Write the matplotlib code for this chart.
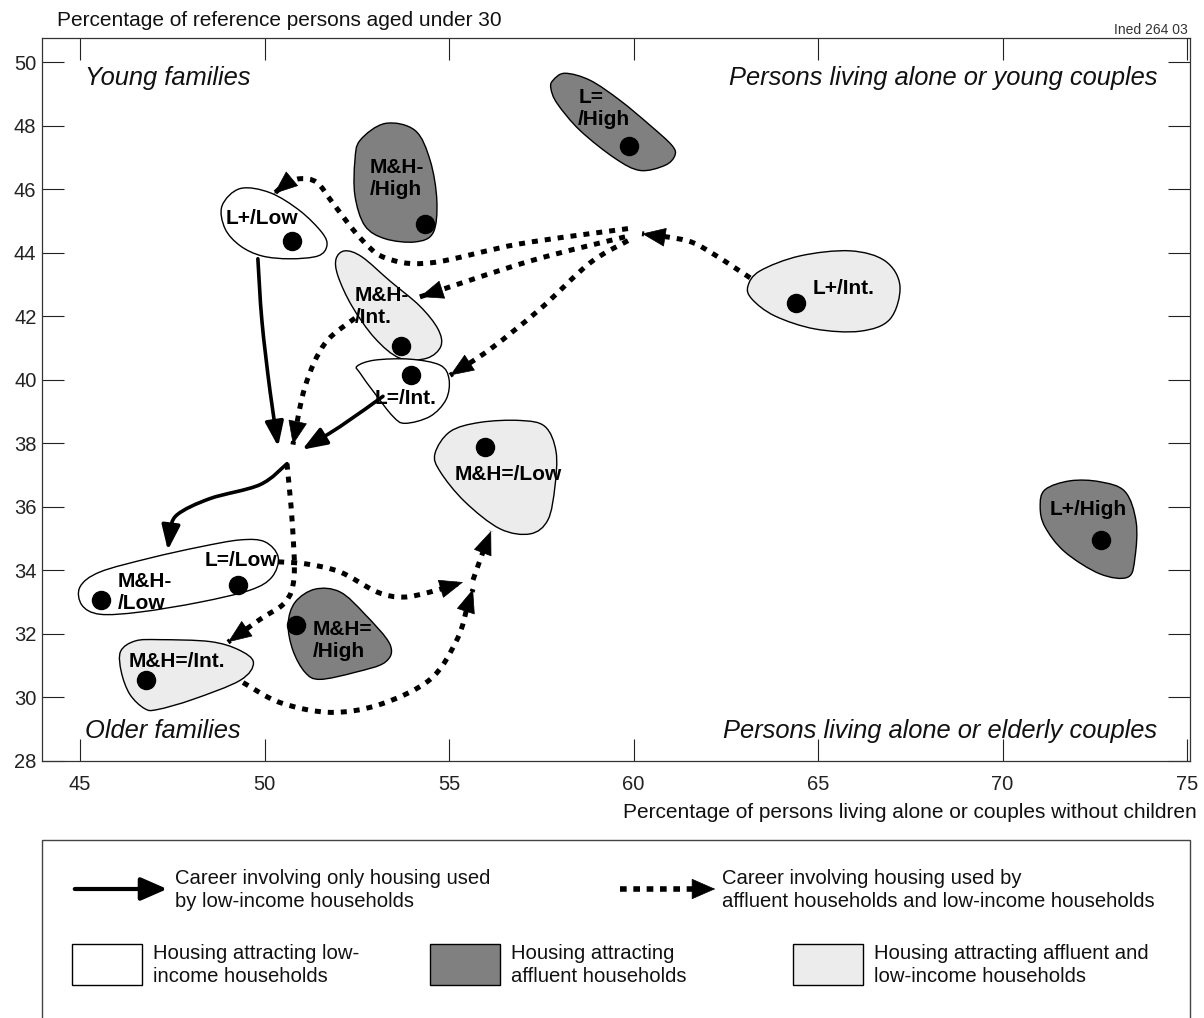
import matplotlib
matplotlib.use('Agg')
import matplotlib.pyplot as plt
from matplotlib.path import Path
from matplotlib.patches import PathPatch, FancyArrowPatch, Rectangle
import numpy as np

plt.rcParams['font.family'] = ['Liberation Sans', 'DejaVu Sans']

# ---------------- data ----------------
housing_types = ['L+/Low', 'M&H-/High', 'L=/High', 'M&H-/Int.', 'L=/Int.', 'L+/Int.',
                 'M&H=/Low', 'L+/High', 'L=/Low', 'M&H-/Low', 'M&H=/High', 'M&H=/Int.']
pct_alone_no_children = [50.75, 54.35, 59.88, 53.70, 53.97, 64.40,
                         55.98, 72.67, 49.28, 45.57, 50.85, 46.79]
pct_under_30 = [44.38, 44.90, 47.35, 41.06, 40.14, 42.42,
                37.90, 34.96, 33.54, 33.06, 32.27, 30.54]
label_text = ['L+/Low', 'M&H-\n/High', 'L=\n/High', 'M&H-\n/Int.', 'L=/Int.', 'L+/Int.',
              'M&H=/Low', 'L+/High', 'L=/Low', 'M&H-\n/Low', 'M&H=\n/High', 'M&H=/Int.']
x_ticks = [45, 50, 55, 60, 65, 70, 75]
y_ticks = [28, 30, 32, 34, 36, 38, 40, 42, 44, 46, 48, 50]

# ---------------- layout / styles (annotation shapes) ----------------
FILL = {'low': 'white', 'affluent': '#808080', 'both': '#ececec'}

blobs = [
    ('low', [(48.85, 45.48), (49.34, 46.02), (50.15, 45.89), (50.96, 45.32), (51.56, 44.63), (51.69, 44.22),
             (51.45, 43.90), (50.69, 43.81), (49.93, 43.90), (49.34, 44.22), (48.93, 44.76)]),
    ('affluent', [(52.59, 47.54), (53.27, 48.07), (54.08, 47.85), (54.49, 46.90), (54.67, 45.64), (54.57, 44.63),
                  (54.08, 44.34), (53.27, 44.44), (52.72, 44.85), (52.45, 45.80), (52.45, 46.90)]),
    ('affluent', [(57.82, 49.43), (58.14, 49.65), (58.82, 49.43), (59.63, 48.80), (60.45, 48.01), (61.04, 47.38),
                  (61.12, 47.06), (60.85, 46.75), (60.18, 46.59), (59.50, 46.97), (58.55, 47.85), (57.93, 48.70),
                  (57.76, 49.18)]),
    ('both', [(52.18, 44.06), (52.64, 43.87), (53.40, 43.11), (54.21, 42.32), (54.70, 41.60), (54.78, 41.06),
              (54.40, 40.68), (53.67, 40.68), (52.99, 41.31), (52.37, 42.32), (51.99, 43.27), (51.94, 43.81)]),
    ('low', [(52.51, 40.43), (52.99, 40.62), (53.94, 40.65), (54.76, 40.46), (55.00, 40.02), (54.92, 39.38),
             (54.49, 38.85), (53.81, 38.63), (53.48, 38.85), (52.99, 39.57), (52.59, 40.21)]),
    ('both', [(63.10, 42.95), (63.43, 43.43), (64.51, 43.90), (65.87, 44.06), (66.82, 43.74), (67.22, 42.95),
              (66.95, 41.91), (66.14, 41.53), (64.92, 41.60), (63.83, 42.01), (63.21, 42.54)]),
    ('both', [(54.62, 37.68), (55.03, 38.37), (55.84, 38.66), (56.92, 38.72), (57.60, 38.53), (57.90, 37.74),
              (57.87, 36.64), (57.68, 35.59), (57.20, 35.15), (56.38, 35.31), (55.43, 36.16), (54.76, 37.11)]),
    ('affluent', [(71.15, 36.54), (71.83, 36.82), (72.64, 36.79), (73.32, 36.48), (73.62, 35.53), (73.59, 34.42),
                  (73.40, 33.79), (72.64, 33.89), (71.69, 34.58), (71.15, 35.37), (71.02, 36.00)]),
    ('low', [(45.00, 33.48), (45.54, 33.95), (46.90, 34.39), (48.25, 34.74), (49.34, 34.96), (50.01, 34.90),
             (50.37, 34.42), (50.20, 33.79), (49.61, 33.38), (48.25, 33.00), (46.63, 32.69), (45.54, 32.62),
             (45.05, 32.91)]),
    ('affluent', [(50.64, 32.31), (50.83, 33.00), (51.37, 33.41), (52.05, 33.32), (52.72, 32.62), (53.40, 31.67),
                  (53.27, 31.11), (52.45, 30.79), (51.50, 30.57), (51.10, 30.79), (50.77, 31.48)]),
    ('both', [(46.10, 31.45), (46.50, 31.78), (47.17, 31.82), (48.52, 31.76), (49.30, 31.50), (49.70, 31.10),
              (49.34, 30.54), (48.06, 29.94), (47.10, 29.62), (46.75, 29.65), (46.35, 30.10), (46.12, 30.80)]),
]

# label anchor: (x, y, ha)
label_pos = [(49.93, 45.07, 'center'), (52.86, 46.33, 'left'), (58.50, 48.55, 'left'), (52.45, 42.32, 'left'),
             (53.81, 39.42, 'center'), (65.68, 42.89, 'center'), (56.60, 37.01, 'center'),
             (72.32, 35.91, 'center'), (49.36, 34.30, 'center'), (46.03, 33.32, 'left'),
             (51.31, 31.80, 'left'), (47.63, 31.14, 'center')]

solid_routes = [
    [(49.82, 43.81), (49.93, 41.85), (50.15, 39.64), (50.37, 37.90)],
    [(53.21, 39.48), (52.05, 38.53), (51.02, 37.80)],
    [(50.61, 37.36), (49.88, 36.70), (48.52, 36.26), (47.63, 35.75), (47.44, 35.21), (47.38, 34.64)],
]
dotted_routes = [
    [(63.16, 43.21), (62.15, 43.97), (61.45, 44.38), (60.23, 44.60)],
    [(59.85, 44.76), (56.92, 44.28), (54.49, 43.68), (53.27, 43.84), (52.59, 44.47), (51.86, 45.55),
     (51.42, 46.21), (50.96, 46.33), (50.56, 46.15), (50.26, 45.86)],
    [(59.77, 44.50), (57.20, 43.74), (54.21, 42.61)],
    [(59.85, 44.38), (58.82, 43.68), (57.47, 42.23), (56.11, 40.96), (55.03, 40.14)],
    [(52.45, 41.94), (51.64, 41.15), (51.10, 39.79), (50.77, 37.96)],
    [(50.61, 37.36), (50.75, 35.53), (50.80, 33.79), (50.56, 33.00), (49.88, 32.46), (49.01, 31.74)],
    [(50.37, 34.27), (51.15, 34.20), (52.05, 33.95), (53.05, 33.32), (53.75, 33.16), (54.49, 33.32),
     (55.38, 33.63)],
    [(49.42, 30.47), (50.42, 29.84), (51.78, 29.53), (53.13, 29.78), (54.49, 30.57), (55.22, 31.83),
     (55.51, 32.91), (55.65, 33.41)],
    [(55.65, 33.70), (55.92, 34.58), (56.14, 35.24)],
]


def smooth_path(pts, closed=False):
    P = np.asarray(pts, float)
    n = len(P)
    verts = [P[0]]
    codes = [Path.MOVETO]
    segs = n if closed else n - 1
    for i in range(segs):
        if closed:
            p0, p1, p2, p3 = P[(i - 1) % n], P[i % n], P[(i + 1) % n], P[(i + 2) % n]
        else:
            p0, p1, p2, p3 = P[max(i - 1, 0)], P[i], P[i + 1], P[min(i + 2, n - 1)]
        c1 = p1 + (p2 - p0) / 6.0
        c2 = p2 - (p3 - p1) / 6.0
        verts += [c1, c2, p2]
        codes += [Path.CURVE4] * 3
    if closed:
        verts.append(P[0])
        codes.append(Path.CLOSEPOLY)
    return Path(verts, codes), (verts[-2] if not closed else None)


fig = plt.figure(figsize=(12.04, 10.18), dpi=100)
ax = fig.add_axes([42 / 1204, 1 - 761 / 1018, 1148 / 1204, 723 / 1018])
ax.set_xlim(43.97, 75.08)
ax.set_ylim(28, 50.76)
ax.set_xticks(x_ticks)
ax.set_yticks(y_ticks)
ax.tick_params(direction='in', length=16, width=0.8, top=True, right=True, labelsize=14.5,
               colors='#222222')
ax.tick_params(axis='x', pad=10)
ax.tick_params(axis='y', pad=4)
for s in ax.spines.values():
    s.set_linewidth(0.9)
    s.set_color('#333333')

# blobs
for kind, pts in blobs:
    p, _ = smooth_path(pts, closed=True)
    ax.add_patch(PathPatch(p, facecolor=FILL[kind], edgecolor='black', lw=1.0, zorder=2))

# solid arrows
for r in solid_routes:
    p, _ = smooth_path(r)
    ax.add_patch(FancyArrowPatch(path=p, arrowstyle='-|>,head_length=0.75,head_width=0.28',
                                 mutation_scale=20, lw=2.6, color='black', zorder=4))

# dotted arrows
for r in dotted_routes:
    p, c2 = smooth_path(r)
    ax.add_patch(PathPatch(p, fill=False, edgecolor='black', lw=3.6, linestyle=(0, (1.2, 1.4)),
                           capstyle='butt', zorder=4))
    tip = np.asarray(r[-1])
    d = tip - np.asarray(c2)
    back = tip - d * 0.25
    ax.add_patch(FancyArrowPatch(path=Path([back, tip]), arrowstyle='-|>,head_length=0.8,head_width=0.32',
                                 mutation_scale=20, lw=0.5, color='black', zorder=5))

# points
ax.plot(pct_alone_no_children, pct_under_30, 'o', color='black', ms=13, zorder=6, linestyle='none')

# labels
for txt, (lx, ly, ha) in zip(label_text, label_pos):
    ax.text(lx, ly, txt, ha=ha, va='center', fontsize=15, fontweight='bold', linespacing=1.2,
            family=['Liberation Sans Narrow', 'Liberation Sans', 'DejaVu Sans'], zorder=7)

# quadrant labels
qkw = dict(fontsize=18.4, style='italic', va='center', color='#111111')
ax.text(45.14, 49.5, 'Young families', ha='left', **qkw)
ax.text(74.19, 49.5, 'Persons living alone or young couples', ha='right', **qkw)
ax.text(45.14, 28.96, 'Older families', ha='left', **qkw)
ax.text(74.19, 28.96, 'Persons living alone or elderly couples', ha='right', **qkw)

fig.text(57 / 1204, 1 - 21 / 1018, 'Percentage of reference persons aged under 30', ha='left', va='center',
         fontsize=15, color='#111111')
fig.text(1197 / 1204, 1 - 812 / 1018, 'Percentage of persons living alone or couples without children',
         ha='right', va='center', fontsize=15, color='#111111')
fig.text(1188 / 1204, 1 - 30 / 1018, 'Ined 264 03', ha='right', va='center', fontsize=10, color='#333333')

# ---------------- legend (figure pixel space) ----------------
lax = fig.add_axes([0, 0, 1, 1])
lax.set_xlim(0, 1204)
lax.set_ylim(1018, 0)
lax.axis('off')
lax.add_patch(Rectangle((42, 840), 1148, 200, fill=False, edgecolor='#444444', lw=1.0))
lax.add_patch(FancyArrowPatch((72, 889), (170, 889), arrowstyle='-|>,head_length=0.8,head_width=0.35',
                              mutation_scale=20, lw=3, color='black'))
lax.plot([620, 700], [889, 889], color='black', lw=4, linestyle=(0, (1.2, 1.2)), solid_capstyle='butt',
         dash_capstyle='butt')
lax.add_patch(FancyArrowPatch((700, 889), (718, 889), arrowstyle='-|>,head_length=0.8,head_width=0.35',
                              mutation_scale=20, lw=0.5, color='black'))
lkw = dict(fontsize=14.6, va='center', ha='left', linespacing=1.3, color='#111111')
lax.text(175, 890, 'Career involving only housing used\nby low-income households', **lkw)
lax.text(722, 890, 'Career involving housing used by\naffluent households and low-income households', **lkw)
for x0, kind, txt in [(72, 'low', 'Housing attracting low-\nincome households'),
                      (430, 'affluent', 'Housing attracting\naffluent households'),
                      (793, 'both', 'Housing attracting affluent and\nlow-income households')]:
    lax.add_patch(Rectangle((x0, 944), 70, 41, facecolor=FILL[kind], edgecolor='black', lw=1.0))
    lax.text(x0 + 81, 965, txt, **lkw)

fig.savefig('out.png', dpi=100)
